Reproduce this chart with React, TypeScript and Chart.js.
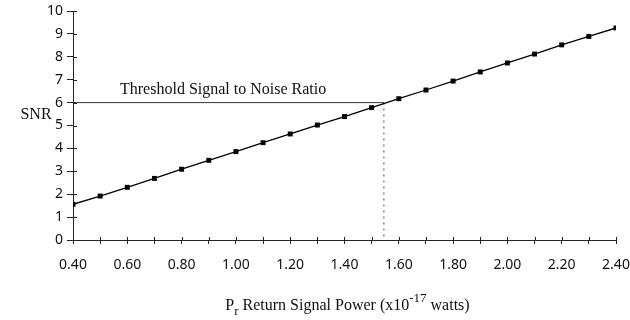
import React, { useEffect, useRef } from "react";
import { Chart, registerables } from "chart.js";

Chart.register(...registerables);

const powerValues = [0.4, 0.5, 0.6, 0.7, 0.8, 0.9, 1.0, 1.1, 1.2, 1.3, 1.4, 1.5, 1.6, 1.7, 1.8, 1.9, 2.0, 2.1, 2.2, 2.3, 2.4];
const snrValues = [1.56, 1.92, 2.3, 2.69, 3.09, 3.48, 3.86, 4.25, 4.63, 5.02, 5.39, 5.78, 6.17, 6.55, 6.94, 7.34, 7.73, 8.12, 8.52, 8.89, 9.26];
const thresholdSNR = 6;
const thresholdPower = 1.545;
const xMin = 0.4;
const xMax = 2.4;
const yMin = 0;
const yMax = 10;

const thresholdLabel = "Threshold Signal to Noise Ratio";
const yTitle = "SNR";

const SERIF = "'Liberation Serif', 'Times New Roman', serif";
const SANS = "'Noto Sans', 'DejaVu Sans', sans-serif";

const overlayPlugin = {
  id: "overlay",
  afterDraw(chart: any) {
    const { ctx, chartArea, scales } = chart;
    const xs = scales.x;
    const ys = scales.y;
    ctx.save();
    // inner halves of cross tick marks
    ctx.strokeStyle = "#222";
    ctx.lineWidth = 1;
    xs.ticks.forEach((t: any) => {
      const px = Math.round(xs.getPixelForValue(t.value)) + 0.5;
      ctx.beginPath();
      ctx.moveTo(px, chartArea.bottom);
      ctx.lineTo(px, chartArea.bottom - 3);
      ctx.stroke();
    });
    ys.ticks.forEach((t: any) => {
      const py = Math.round(ys.getPixelForValue(t.value)) + 0.5;
      ctx.beginPath();
      ctx.moveTo(chartArea.left, py);
      ctx.lineTo(chartArea.left + 4, py);
      ctx.stroke();
    });
    // threshold label
    ctx.fillStyle = "#111";
    ctx.font = `16px ${SERIF}`;
    ctx.textBaseline = "alphabetic";
    ctx.textAlign = "left";
    ctx.fillText(thresholdLabel, chartArea.left + 47, ys.getPixelForValue(thresholdSNR) - 9);
    // y title
    ctx.font = `16px ${SERIF}`;
    ctx.textAlign = "center";
    ctx.textBaseline = "middle";
    ctx.fillText(yTitle, 36, ys.getPixelForValue(5.5) + 1);
    // x title with sub/superscript
    const baseY = chartArea.bottom + 70;
    const parts: Array<[string, string]> = [
      ["P", "n"],
      ["r", "s"],
      [" Return Signal Power (x10", "n"],
      ["-17", "p"],
      [" watts)", "n"],
    ];
    let totalW = 0;
    const measured = parts.map(([txt, kind]) => {
      ctx.font = kind === "n" ? `16px ${SERIF}` : `13px ${SERIF}`;
      const w = ctx.measureText(txt).width;
      totalW += w;
      return w;
    });
    let cx = (chartArea.left + chartArea.right) / 2 + 3 - totalW / 2;
    ctx.textAlign = "left";
    ctx.textBaseline = "alphabetic";
    parts.forEach(([txt, kind], i) => {
      let y = baseY;
      ctx.font = kind === "n" ? `16px ${SERIF}` : `13px ${SERIF}`;
      if (kind === "s") y = baseY + 5;
      if (kind === "p") y = baseY - 8;
      ctx.fillText(txt, cx, y);
      cx += measured[i];
    });
    ctx.restore();
  },
};

export default function App() {
  const ref = useRef<HTMLCanvasElement | null>(null);
  useEffect(() => {
    if (!ref.current) return;
    const chart = new Chart(ref.current, {
      type: "scatter",
      data: {
        datasets: [
          {
            data: powerValues.map((p, i) => ({ x: p, y: snrValues[i] })),
            showLine: true,
            borderColor: "#000",
            backgroundColor: "#000",
            borderWidth: 1.3,
            pointStyle: "rect",
            pointRadius: 3.5,
            pointBorderWidth: 0,
          },
          {
            data: [
              { x: xMin, y: thresholdSNR },
              { x: thresholdPower, y: thresholdSNR },
            ],
            showLine: true,
            borderColor: "#333",
            borderWidth: 1,
            pointRadius: 0,
          },
          {
            data: [
              { x: thresholdPower, y: thresholdSNR },
              { x: thresholdPower, y: yMin },
            ],
            showLine: true,
            borderColor: "#666",
            borderWidth: 1.2,
            borderDash: [2, 4],
            pointRadius: 0,
          },
        ],
      },
      options: {
        responsive: false,
        animation: false,
        devicePixelRatio: 1,
        layout: { padding: { left: 0, right: 14, top: 11, bottom: 0 } },
        plugins: { legend: { display: false }, tooltip: { enabled: false } },
        scales: {
          x: {
            type: "linear",
            min: xMin,
            max: xMax,
            afterBuildTicks(scale: any) {
              const t = [];
              for (let i = 0; i <= 20; i++) t.push({ value: +(xMin + i * 0.1).toFixed(2) });
              scale.ticks = t;
            },
            afterFit(scale: any) {
              scale.height = 80;
              scale.paddingLeft = 0;
              scale.paddingRight = 0;
            },
            ticks: {
              autoSkip: false,
              maxRotation: 0,
              padding: 13,
              color: "#111",
              font: { family: SANS, size: 14 },
              callback: (v: any, i: number) => (i % 2 === 0 ? Number(v).toFixed(2) : ""),
            },
            grid: { drawOnChartArea: false, drawTicks: true, tickLength: 4, color: "#222" },
            border: { display: true, color: "#222", width: 1 },
          },
          y: {
            type: "linear",
            min: yMin,
            max: yMax,
            afterFit(scale: any) {
              scale.width = 73;
              scale.paddingTop = 0;
              scale.paddingBottom = 0;
            },
            ticks: {
              stepSize: 1,
              padding: 4,
              color: "#111",
              font: { family: SANS, size: 14 },
            },
            grid: { drawOnChartArea: false, drawTicks: true, tickLength: 6, color: "#222" },
            border: { display: true, color: "#222", width: 1 },
          },
        },
      },
      plugins: [overlayPlugin],
    } as any);
    return () => chart.destroy();
  }, []);
  return (
    <div style={{ position: "fixed", left: 0, top: 0, width: 630, height: 320, background: "#fff" }}>
      <canvas ref={ref} width={630} height={320} />
    </div>
  );
}
